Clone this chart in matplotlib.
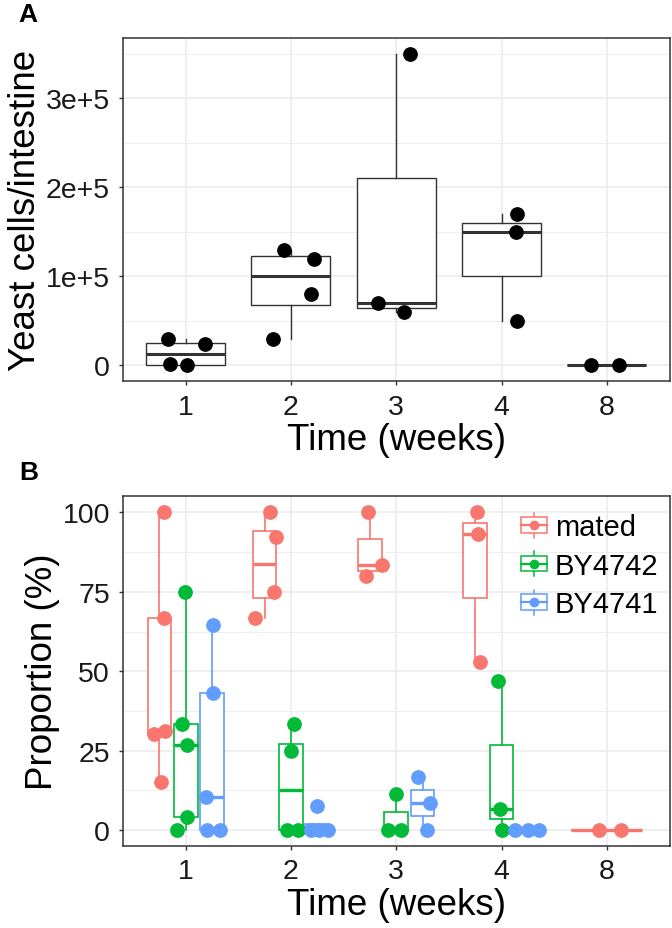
import matplotlib
matplotlib.use("Agg")
import matplotlib.pyplot as plt
import numpy as np
from matplotlib.legend_handler import HandlerBase
from matplotlib.patches import Rectangle
from matplotlib.lines import Line2D

plt.rcParams['font.family'] = ['Liberation Sans', 'DejaVu Sans']

# ---------------- data ----------------
weeks = ['1', '2', '3', '4', '8']

# Panel A: yeast cells per intestine
cells_w1 = [0, 1200, 24000, 30000]
cells_w2 = [30000, 80000, 120000, 130000]
cells_w3 = [60000, 70000, 350000]
cells_w4 = [50000, 150000, 170000]
cells_w8 = [0, 0]
cells = [cells_w1, cells_w2, cells_w3, cells_w4, cells_w8]
jitter_a = [[0.01, -0.15, 0.18, -0.17],
            [-0.17, 0.19, 0.22, -0.07],
            [0.07, -0.17, 0.13],
            [0.15, 0.14, 0.15],
            [-0.15, 0.12]]
yticks_a = [0, 100000, 200000, 300000]
yticklabels_a = ['0', '1e+5', '2e+5', '3e+5']

# Panel B: proportions (%)
strains = ['mated', 'BY4742', 'BY4741']
mated = [[15.1, 30.1, 31.2, 66.6, 100], [66.6, 75, 92.2, 100], [80, 83.3, 100],
         [53, 93.3, 100], [0, 0]]
by4742 = [[0, 4.2, 26.7, 33.3, 75], [0, 0, 25, 33.3], [0, 0, 11.4],
          [0, 6.7, 46.9], []]
by4741 = [[0, 0, 10.5, 43.2, 64.7], [0, 0, 0, 7.7], [0, 8.6, 16.7],
          [0, 0, 0], []]
jit_mated = [[0.019, -0.054, 0.057, 0.044, 0.044], [-0.088, 0.085, 0.11, 0.05],
             [-0.036, 0.118, -0.014], [0.049, 0.027, 0.017], [-0.07, 0.132]]
jit_by4742 = [[-0.08, 0.017, 0.008, -0.033, -0.005], [-0.041, 0.063, 0.0, 0.025],
              [-0.075, 0.047, 0.0], [0.0, -0.013, -0.035], []]
jit_by4741 = [[-0.046, 0.08, -0.058, 0.005, 0.005], [-0.06, 0.015, 0.1, 0.0],
              [0.038, 0.069, -0.044], [-0.121, 0.0, 0.102], []]
yticks_b = [0, 25, 50, 75, 100]

colors = ['#F8766D', '#00BA38', '#619CFF']
dark = '#333333'
grid_c = '#EBEBEB'

fig = plt.figure(figsize=(6.72, 9.29), dpi=100)
axA = fig.add_axes([0.1823, 0.5888, 0.8147, 0.3692])
axB = fig.add_axes([0.1823, 0.0883, 0.8147, 0.3762])

TICK_FS = 20.5
TITLE_FS = 26.5


def style_axes(ax):
    ax.set_xlim(-0.6, len(weeks) - 0.4)
    ax.set_xticks(range(len(weeks)))
    ax.set_xticklabels(weeks)
    for s in ax.spines.values():
        s.set_color(dark)
        s.set_linewidth(1.1)
    ax.tick_params(axis='both', length=3, width=1.0, color=dark,
                   labelsize=TICK_FS, labelcolor='#1a1a1a', pad=6)
    ax.grid(True, which='major', color=grid_c, lw=1.1, zorder=0)
    ax.grid(True, which='minor', axis='y', color=grid_c, lw=0.6, zorder=0)
    ax.tick_params(axis='y', which='minor', length=0)
    ax.set_axisbelow(True)
    ax.set_xlabel('Time (weeks)', fontsize=TITLE_FS, labelpad=2)


def draw_box(ax, data, pos, width, color, lw=1.0, mlw=2.2):
    bp = ax.boxplot([data], positions=[pos], widths=width, patch_artist=True,
                    showfliers=False, showcaps=False, whis=1.5, manage_ticks=False,
                    boxprops=dict(facecolor='white', edgecolor=color, linewidth=lw),
                    whiskerprops=dict(color=color, linewidth=lw),
                    medianprops=dict(color=color, linewidth=mlw, solid_capstyle='butt'),
                    zorder=2)
    return bp


# ---------------- Panel A ----------------
for i, vals in enumerate(cells):
    draw_box(axA, vals, i, 0.75, dark)
    xs = [i + j for j in jitter_a[i]]
    axA.plot(xs, vals, 'o', color='black', markersize=9.6, ls='none', zorder=3)

axA.set_ylim(-17500, 367500)
axA.set_yticks(yticks_a)
axA.set_yticklabels(yticklabels_a)
axA.set_yticks([50000, 150000, 250000, 350000], minor=True)
style_axes(axA)
axA.set_ylabel('Yeast cells/intestine', fontsize=TITLE_FS, labelpad=2)

# ---------------- Panel B ----------------
groups = [mated, by4742, by4741]
jits = [jit_mated, jit_by4742, jit_by4741]
for i in range(len(weeks)):
    present = [g for g in range(3) if len(groups[g][i]) > 0]
    n = len(present)
    offs = {1: [0.0], 3: [-0.25, 0.0, 0.25]}[n]
    bw = 0.75 / n * 0.9
    for k, g in enumerate(present):
        pos = i + offs[k]
        draw_box(axB, groups[g][i], pos, bw, colors[g], lw=1.2, mlw=2.4)
    for k, g in enumerate(present):
        pos = i + offs[k]
        xs = [pos + j for j in jits[g][i]]
        axB.plot(xs, groups[g][i], 'o', color=colors[g], markersize=9.6,
                 ls='none', zorder=3)

axB.set_ylim(-5, 105)
axB.set_yticks(yticks_b)
axB.set_yticks([12.5, 37.5, 62.5, 87.5], minor=True)
style_axes(axB)
axB.set_ylabel('Proportion (%)', fontsize=TITLE_FS, labelpad=2)


class BoxKeyHandler(HandlerBase):
    def __init__(self, color):
        super().__init__()
        self.color = color

    def create_artists(self, legend, orig_handle, xdescent, ydescent, width,
                       height, fontsize, trans):
        c = self.color
        bw, bh = width * 0.9, height * 0.75
        x0 = -xdescent + (width - bw) / 2
        y0 = -ydescent + (height - bh) / 2
        cx = -xdescent + width / 2
        cy = -ydescent + height / 2
        rect = Rectangle((x0, y0), bw, bh, facecolor='white', edgecolor=c,
                         lw=1.1, transform=trans)
        wl = Line2D([cx, cx], [-ydescent - height * 0.1, -ydescent + height * 1.1],
                    color=c, lw=1.1, transform=trans)
        ml = Line2D([x0, x0 + bw], [cy, cy], color=c, lw=1.6, transform=trans)
        dot = Line2D([cx], [cy], marker='o', color=c, markersize=6,
                     ls='none', transform=trans)
        return [wl, rect, ml, dot]


handles = [Line2D([], [], color=c) for c in colors]
leg = axB.legend(handles, strains, loc='upper right',
                 bbox_to_anchor=(1.0, 0.985), frameon=False,
                 fontsize=21, handlelength=1.0, handleheight=0.72,
                 handletextpad=0.2, labelspacing=0.36, borderaxespad=0.0,
                 handler_map={h: BoxKeyHandler(c) for h, c in zip(handles, colors)})

fig.text(0.042, 0.984, 'A', fontsize=19, fontweight='bold', ha='center', va='center')
fig.text(0.043, 0.491, 'B', fontsize=19, fontweight='bold', ha='center', va='center')

fig.savefig('out.png', dpi=100)
